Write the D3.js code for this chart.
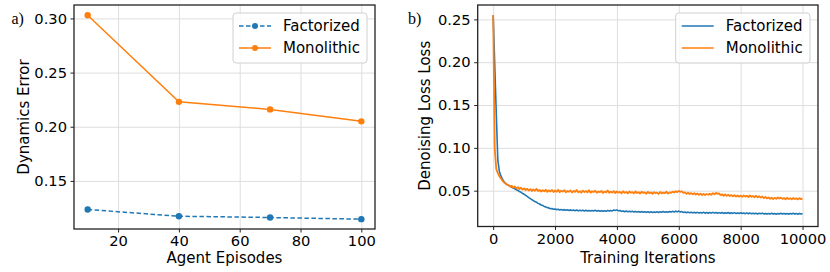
<!DOCTYPE html>
<html>
<head>
<meta charset="utf-8">
<script src="https://cdn.jsdelivr.net/npm/d3@7"></script>
<style>
  body { margin: 0; background: #fff; }
  svg { display: block; }
  text { font-family: "DejaVu Sans", sans-serif; }
</style>
</head>
<body>
<svg id="chart" width="830" height="272"></svg>
<script>
// panel a) data
const episodes = [10, 40, 70, 100];
const factorizedErr = [0.1236, 0.1174, 0.1162, 0.1147];
const monolithicErr = [0.3030, 0.2230, 0.2160, 0.2050];
const errTicksX = [20, 40, 60, 80, 100];
const errTicksY = [0.15, 0.20, 0.25, 0.30];

// panel b) data, one value every 50 iterations
const lossStep = 50;
const factorizedLoss = [
  0.255, 0.198, 0.141, 0.086, 0.0725, 0.0672, 0.0634, 0.0605, 0.0583, 0.0571,
  0.0562, 0.0551, 0.0543, 0.0530, 0.0522, 0.0511, 0.0503, 0.0490, 0.0481, 0.0468,
  0.0459, 0.0445, 0.0433, 0.0419, 0.0408, 0.0396, 0.0383, 0.0374, 0.0366, 0.0352,
  0.0345, 0.0333, 0.0328, 0.0316, 0.0311, 0.0302, 0.0299, 0.0290, 0.0293, 0.0284,
  0.0287, 0.0279, 0.0283, 0.0275, 0.0281, 0.0273, 0.0279, 0.0271, 0.0277, 0.0270,
  0.0276, 0.0268, 0.0274, 0.0267, 0.0275, 0.0265, 0.0272, 0.0266, 0.0273, 0.0264,
  0.0271, 0.0263, 0.0270, 0.0262, 0.0269, 0.0264, 0.0272, 0.0261, 0.0268, 0.0260,
  0.0267, 0.0259, 0.0266, 0.0261, 0.0268, 0.0262, 0.0270, 0.0264, 0.0274, 0.0268,
  0.0276, 0.0265, 0.0269, 0.0258, 0.0264, 0.0255, 0.0262, 0.0254, 0.0260, 0.0253,
  0.0259, 0.0251, 0.0258, 0.0250, 0.0257, 0.0249, 0.0256, 0.0248, 0.0255, 0.0247,
  0.0254, 0.0246, 0.0253, 0.0245, 0.0252, 0.0247, 0.0255, 0.0246, 0.0253, 0.0248,
  0.0256, 0.0249, 0.0254, 0.0248, 0.0257, 0.0250, 0.0259, 0.0252, 0.0261, 0.0253,
  0.0262, 0.0251, 0.0256, 0.0246, 0.0252, 0.0243, 0.0250, 0.0242, 0.0249, 0.0241,
  0.0248, 0.0240, 0.0247, 0.0239, 0.0246, 0.0240, 0.0248, 0.0238, 0.0245, 0.0237,
  0.0246, 0.0238, 0.0247, 0.0239, 0.0245, 0.0236, 0.0244, 0.0237, 0.0246, 0.0235,
  0.0243, 0.0236, 0.0245, 0.0234, 0.0242, 0.0235, 0.0244, 0.0233, 0.0241, 0.0234,
  0.0242, 0.0233, 0.0240, 0.0232, 0.0241, 0.0231, 0.0239, 0.0232, 0.0238, 0.0230,
  0.0237, 0.0229, 0.0236, 0.0230, 0.0238, 0.0228, 0.0235, 0.0227, 0.0234, 0.0228,
  0.0236, 0.0227, 0.0234, 0.0226, 0.0233, 0.0228, 0.0237, 0.0229, 0.0235, 0.0227,
  0.0234, 0.0226, 0.0235, 0.0228, 0.0236, 0.0227, 0.0233, 0.0226, 0.0235, 0.0228,
  0.0232
];
const monolithicLoss = [
  0.255, 0.100, 0.0752, 0.0705, 0.0668, 0.0642, 0.0618, 0.0596, 0.0588, 0.0571,
  0.0563, 0.0548, 0.0557, 0.0535, 0.0549, 0.0528, 0.0541, 0.0519, 0.0534, 0.0512,
  0.0527, 0.0508, 0.0522, 0.0503, 0.0518, 0.0497, 0.0514, 0.0499, 0.0521, 0.0496,
  0.0510, 0.0489, 0.0507, 0.0493, 0.0512, 0.0486, 0.0504, 0.0491, 0.0509, 0.0484,
  0.0502, 0.0488, 0.0511, 0.0483, 0.0499, 0.0490, 0.0506, 0.0481, 0.0497, 0.0487,
  0.0503, 0.0479, 0.0498, 0.0486, 0.0508, 0.0482, 0.0494, 0.0478, 0.0501, 0.0485,
  0.0496, 0.0480, 0.0505, 0.0477, 0.0493, 0.0484, 0.0499, 0.0476, 0.0491, 0.0483,
  0.0498, 0.0474, 0.0490, 0.0481, 0.0502, 0.0475, 0.0489, 0.0479, 0.0495, 0.0472,
  0.0491, 0.0478, 0.0487, 0.0470, 0.0493, 0.0476, 0.0485, 0.0469, 0.0490, 0.0477,
  0.0484, 0.0468, 0.0492, 0.0473, 0.0482, 0.0467, 0.0488, 0.0474, 0.0480, 0.0465,
  0.0486, 0.0470, 0.0479, 0.0464, 0.0483, 0.0471, 0.0477, 0.0462, 0.0485, 0.0468,
  0.0478, 0.0472, 0.0487, 0.0466, 0.0481, 0.0475, 0.0489, 0.0479, 0.0494, 0.0483,
  0.0498, 0.0486, 0.0492, 0.0474, 0.0481, 0.0463, 0.0476, 0.0460, 0.0472, 0.0458,
  0.0470, 0.0455, 0.0468, 0.0452, 0.0466, 0.0450, 0.0463, 0.0449, 0.0461, 0.0453,
  0.0465, 0.0451, 0.0471, 0.0459, 0.0475, 0.0462, 0.0469, 0.0448, 0.0458, 0.0441,
  0.0455, 0.0440, 0.0452, 0.0437, 0.0449, 0.0434, 0.0447, 0.0432, 0.0445, 0.0430,
  0.0443, 0.0428, 0.0446, 0.0431, 0.0440, 0.0426, 0.0444, 0.0429, 0.0438, 0.0424,
  0.0441, 0.0422, 0.0436, 0.0420, 0.0432, 0.0414, 0.0427, 0.0410, 0.0421, 0.0406,
  0.0418, 0.0403, 0.0416, 0.0405, 0.0422, 0.0408, 0.0419, 0.0404, 0.0415, 0.0400,
  0.0417, 0.0402, 0.0413, 0.0399, 0.0415, 0.0403, 0.0411, 0.0398, 0.0414, 0.0401,
  0.0409
];
const lossTicksX = [0, 2000, 4000, 6000, 8000, 10000];
const lossTicksY = [0.05, 0.10, 0.15, 0.20, 0.25];

const blue = "#1f77b4";
const orange = "#ff7f0e";

const svg = d3.select("#chart");

// draws grid, ticks and labels for one panel
function drawAxes(x, y, ticksX, ticksY, fmtX, fmtY, xLabel, yLabel, yLabelX, tag, tagX) {
  const [x0, x1] = x.range();
  const [y0, y1] = y.range();

  const g = svg.append("g");

  // grid
  g.append("g")
    .attr("transform", "translate(0," + y0 + ")")
    .call(d3.axisBottom(x).tickValues(ticksX).tickSize(-(y0 - y1)).tickFormat(""))
    .call(s => s.select(".domain").remove())
    .selectAll("line").attr("stroke", "#dedede").attr("stroke-width", 1);
  g.append("g")
    .attr("transform", "translate(" + x0 + ",0)")
    .call(d3.axisLeft(y).tickValues(ticksY).tickSize(-(x1 - x0)).tickFormat(""))
    .call(s => s.select(".domain").remove())
    .selectAll("line").attr("stroke", "#dedede").attr("stroke-width", 1);

  // ticks
  const ax = g.append("g")
    .attr("transform", "translate(0," + y0 + ")")
    .call(d3.axisBottom(x).tickValues(ticksX).tickFormat(fmtX).tickSize(3.5).tickPadding(3.5));
  const ay = g.append("g")
    .attr("transform", "translate(" + x0 + ",0)")
    .call(d3.axisLeft(y).tickValues(ticksY).tickFormat(fmtY).tickSize(3.5).tickPadding(3.5));
  [ax, ay].forEach(a => {
    a.select(".domain").remove();
    a.selectAll("line").attr("stroke", "#222").attr("stroke-width", 1);
    a.selectAll("text")
      .attr("fill", "#000")
      .style("font-family", "DejaVu Sans, sans-serif")
      .style("font-size", "14.7px");
  });

  g.append("text")
    .attr("x", (x0 + x1) / 2)
    .attr("y", 263)
    .attr("text-anchor", "middle")
    .style("font-size", "15px")
    .text(xLabel);

  g.append("text")
    .attr("transform", "translate(" + yLabelX + "," + (y0 + y1) / 2 + ") rotate(-90)")
    .attr("text-anchor", "middle")
    .style("font-size", "15px")
    .text(yLabel);

  g.append("text")
    .attr("x", tagX)
    .attr("y", 24)
    .style("font-family", "Liberation Serif, serif")
    .style("font-size", "16px")
    .text(tag);

  return g;
}

function drawFrame(x, y) {
  const [x0, x1] = x.range();
  const [y0, y1] = y.range();
  svg.append("rect")
    .attr("x", x0).attr("y", y1)
    .attr("width", x1 - x0).attr("height", y0 - y1)
    .attr("fill", "none")
    .attr("stroke", "#222")
    .attr("stroke-width", 1.3);
}

function drawLegend(x0, y0, w, items) {
  const lg = svg.append("g").attr("transform", "translate(" + x0 + "," + y0 + ")");
  lg.append("rect")
    .attr("width", w).attr("height", 50)
    .attr("rx", 3)
    .attr("fill", "#fff").attr("fill-opacity", 0.85)
    .attr("stroke", "#d0d0d0");
  items.forEach((d, i) => {
    const cy = 13 + i * 22;
    lg.append("line")
      .attr("x1", 6).attr("x2", 38)
      .attr("y1", cy).attr("y2", cy)
      .attr("stroke", d.color)
      .attr("stroke-width", 1.5)
      .attr("stroke-dasharray", d.dash || null);
    if (d.marker) {
      lg.append("circle").attr("cx", 22).attr("cy", cy).attr("r", 3).attr("fill", d.color);
    }
    lg.append("text")
      .attr("x", 50).attr("y", cy)
      .attr("dy", "0.36em")
      .style("font-size", "15px")
      .text(d.name);
  });
}

// ---- panel a)
const xa = d3.scaleLinear().domain([5.5, 104.5]).range([74, 375]);
const ya = d3.scaleLinear().domain([0.1056, 0.3124]).range([229, 5]);

drawAxes(xa, ya, errTicksX, errTicksY, d3.format("d"), d3.format(".2f"),
  "Agent Episodes", "Dynamics Error", 28.5, "a)", 11.5);

const errSeries = [
  { name: "Factorized", values: factorizedErr, color: blue, dash: "4.5,2.5", marker: true },
  { name: "Monolithic", values: monolithicErr, color: orange, marker: true }
];
const lineA = d3.line().x((d, i) => xa(episodes[i])).y(d => ya(d));
errSeries.forEach(s => {
  svg.append("path")
    .attr("d", lineA(s.values))
    .attr("fill", "none")
    .attr("stroke", s.color)
    .attr("stroke-width", 1.5)
    .attr("stroke-dasharray", s.dash || null);
  svg.selectAll(null)
    .data(s.values)
    .enter()
    .append("circle")
    .attr("cx", (d, i) => xa(episodes[i]))
    .attr("cy", d => ya(d))
    .attr("r", 3.2)
    .attr("fill", s.color);
});
drawFrame(xa, ya);
drawLegend(233, 13, 134, errSeries);

// ---- panel b)
const xb = d3.scaleLinear().domain([-500, 10500]).range([477.7, 818]);
const yb = d3.scaleLinear().domain([0.0082, 0.2668]).range([226.5, 5]);

drawAxes(xb, yb, lossTicksX, lossTicksY, d3.format("d"), d3.format(".2f"),
  "Training Iterations", "Denoising Loss Loss", 429.5, "b)", 408);

const lossSeries = [
  { name: "Factorized", values: factorizedLoss, color: blue, width: 1.6 },
  { name: "Monolithic", values: monolithicLoss, color: orange, width: 1.8 }
];
const lineB = d3.line().x((d, i) => xb(i * lossStep)).y(d => yb(d));
svg.append("defs").append("clipPath").attr("id", "clipB")
  .append("rect").attr("x", 477.7).attr("y", 5).attr("width", 340.3).attr("height", 221.5);
lossSeries.forEach(s => {
  svg.append("path")
    .attr("clip-path", "url(#clipB)")
    .attr("d", lineB(s.values))
    .attr("fill", "none")
    .attr("stroke", s.color)
    .attr("stroke-width", s.width)
    .attr("stroke-linejoin", "round");
});
drawFrame(xb, yb);
drawLegend(675.7, 13, 134.3, lossSeries);
</script>
</body>
</html>
